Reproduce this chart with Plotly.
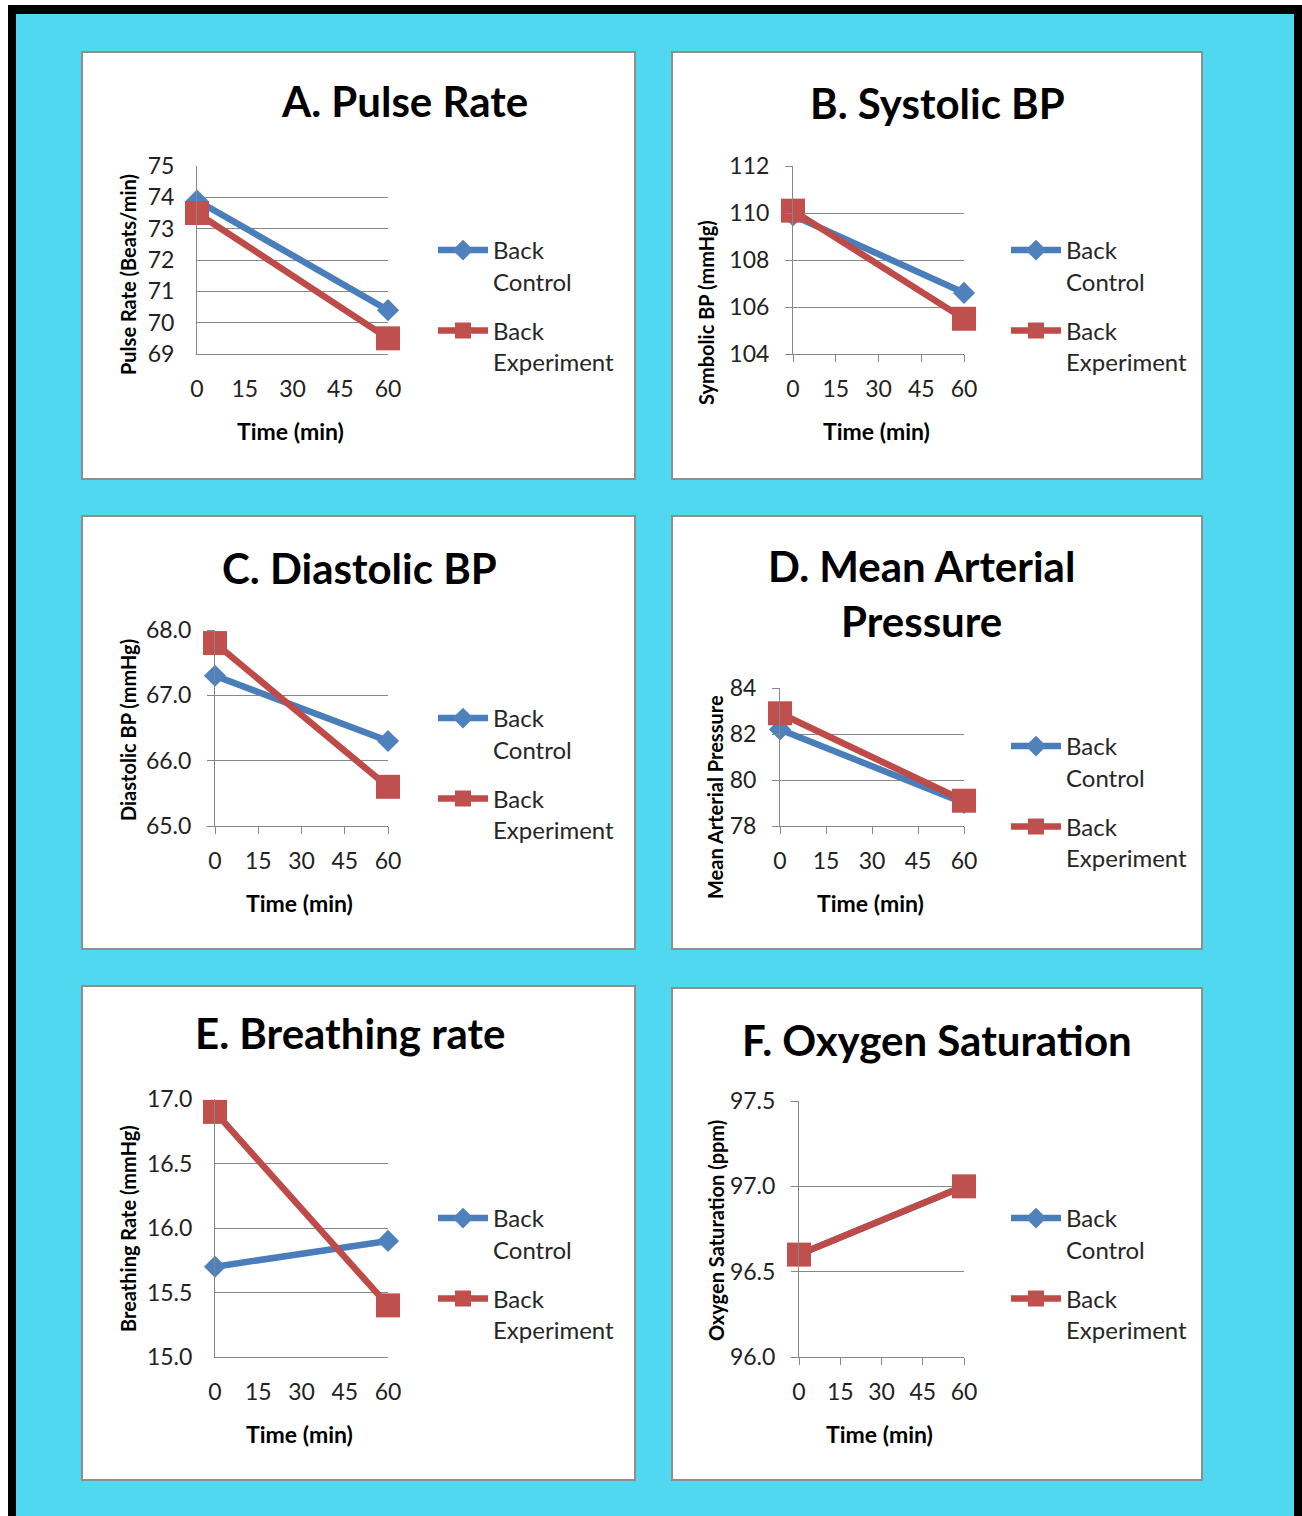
import plotly.graph_objects as go

W, H = 1302, 1516

# ---- data ----
time_min = [0, 60]
x_ticks = [0, 15, 30, 45, 60]

pulse_control = [73.9, 70.4]
pulse_experiment = [73.5, 69.5]

systolic_control = [109.9, 106.6]
systolic_experiment = [110.1, 105.5]

diastolic_control = [67.3, 66.3]
diastolic_experiment = [67.8, 65.6]

map_control = [82.2, 79.0]
map_experiment = [82.9, 79.1]

breathing_control = [15.7, 15.9]
breathing_experiment = [16.9, 15.4]

oxygen_control = [96.6, 97.0]
oxygen_experiment = [96.6, 97.0]

series_names = ["Back<br>Control", "Back<br>Experiment"]

BLUE_LINE, BLUE_MARK = "#4A7EBB", "#4F81BD"
RED_LINE, RED_MARK = "#BE4B48", "#C0504D"
GRID = "#878787"
CYAN = "#4FD8F0"
FONT = "Lato"


def px(x):
    return x / W


def py(y):
    return 1 - y / H


# layout of each chart panel (pixel geometry)
panels = [
    dict(title="A. Pulse Rate", ytitle="Pulse Rate (Beats/min)",
         control=pulse_control, experiment=pulse_experiment,
         yrange=(69, 75), dtick=1, fmt="d", ticks=False,
         box=(82, 52, 635, 479), plot=(197, 166, 388, 354),
         title_xy=(404, 101), ytitle_xy=(128, 275), legend_xy=(433, 228)),
    dict(title="B. Systolic BP", ytitle="Symbolic BP (mmHg)",
         control=systolic_control, experiment=systolic_experiment,
         yrange=(104, 112), dtick=2, fmt="d", ticks=True,
         box=(672, 52, 1202, 479), plot=(793, 166, 964, 354),
         title_xy=(937, 103), ytitle_xy=(706, 312), legend_xy=(1006, 228)),
    dict(title="C. Diastolic BP", ytitle="Diastolic BP (mmHg)",
         control=diastolic_control, experiment=diastolic_experiment,
         yrange=(65, 68), dtick=1, fmt=".1f", ticks=True,
         box=(82, 516, 635, 949), plot=(215, 630, 388, 826),
         title_xy=(359, 568), ytitle_xy=(128, 730), legend_xy=(433, 696)),
    dict(title="D. Mean Arterial<br>Pressure", ytitle="Mean Arterial Pressure",
         control=map_control, experiment=map_experiment,
         yrange=(78, 84), dtick=2, fmt="d", ticks=True,
         box=(672, 516, 1202, 949), plot=(780, 688, 964, 826),
         title_xy=(921, 594), ytitle_xy=(715, 797), legend_xy=(1006, 724)),
    dict(title="E. Breathing rate", ytitle="Breathing Rate (mmHg)",
         control=breathing_control, experiment=breathing_experiment,
         yrange=(15, 17), dtick=0.5, fmt=".1f", ticks=False,
         box=(82, 986, 635, 1480), plot=(215, 1099, 388, 1357),
         title_xy=(350, 1033), ytitle_xy=(128, 1229), legend_xy=(433, 1196)),
    dict(title="F. Oxygen Saturation", ytitle="Oxygen Saturation (ppm)",
         control=oxygen_control, experiment=oxygen_experiment,
         yrange=(96, 97.5), dtick=0.5, fmt=".1f", ticks=True,
         box=(672, 988, 1202, 1480), plot=(799, 1101, 964, 1357),
         title_xy=(937, 1040), ytitle_xy=(716, 1231), legend_xy=(1006, 1196)),
]

fig = go.Figure()
shapes = [
    # black frame and cyan backdrop
    dict(type="rect", xref="paper", yref="paper", x0=px(8), x1=1, y0=0, y1=py(5),
         fillcolor="black", line_width=0, layer="below"),
    dict(type="rect", xref="paper", yref="paper", x0=px(16), x1=px(1294), y0=0, y1=py(14),
         fillcolor=CYAN, line_width=0, layer="below"),
]
annotations = []
layout_extra = {}

for i, p in enumerate(panels, start=1):
    sfx = "" if i == 1 else str(i)
    xa, ya = f"x{sfx}", f"y{sfx}"
    leg = "legend" if i == 1 else f"legend{i}"

    bx0, by0, bx1, by1 = p["box"]
    shapes.append(dict(type="rect", xref="paper", yref="paper",
                       x0=px(bx0), x1=px(bx1), y0=py(by1), y1=py(by0),
                       fillcolor="white", line=dict(color="#8E8E8E", width=2),
                       layer="below"))

    for name, vals, lc, mc, sym, size, grp in [
        (series_names[0], p["control"], BLUE_LINE, BLUE_MARK, "diamond", 17, "c"),
        (series_names[1], p["experiment"], RED_LINE, RED_MARK, "square", 24, "e"),
    ]:
        fig.add_trace(go.Scatter(
            x=time_min, y=vals, name=name, mode="lines+markers",
            xaxis=xa, yaxis=ya, legend=leg, legendgroup=f"{grp}{i}",
            cliponaxis=False,
            line=dict(color=lc, width=6.5),
            marker=dict(symbol=sym, size=size, color=mc,
                        line=dict(width=0)),
        ))

    x0, y0, x1, y1 = p["plot"]
    tick_style = dict(ticks="outside", ticklen=7, tickcolor=GRID, tickwidth=1) if p["ticks"] \
        else dict(ticks="")
    layout_extra[f"xaxis{sfx}"] = dict(
        domain=[px(x0), px(x1)], anchor=ya, range=[0, 60],
        tickvals=x_ticks, showgrid=False, zeroline=False, automargin=False,
        showline=True, linecolor=GRID, linewidth=1,
        tickfont=dict(family=FONT, size=23, color="#222222"),
        ticklabelstandoff=7 if p["ticks"] else 14,
        **tick_style,
    )
    layout_extra[f"yaxis{sfx}"] = dict(
        domain=[py(y1), py(y0)], anchor=xa, range=list(p["yrange"]),
        dtick=p["dtick"], tick0=p["yrange"][0], tickformat=p["fmt"],
        showgrid=True, gridcolor=GRID, gridwidth=1, zeroline=False, automargin=False,
        showline=True, linecolor=GRID, linewidth=1,
        tickfont=dict(family=FONT, size=23, color="#222222"),
        ticklabelstandoff=11 if p["ticks"] else 17,
        **tick_style,
    )

    lx, ly = p["legend_xy"]
    layout_extra[leg] = dict(
        x=px(lx), y=py(ly), xanchor="left", yanchor="top",
        bgcolor="rgba(0,0,0,0)", borderwidth=0,
        font=dict(family=FONT, size=24, color="#262626"),
        valign="top", traceorder="grouped", tracegroupgap=15,
        itemwidth=50,
    )

    tx, ty = p["title_xy"]
    annotations.append(dict(
        text=f"<b>{p['title']}</b>", x=px(tx), y=py(ty), xref="paper", yref="paper",
        xanchor="center", yanchor="middle", showarrow=False,
        font=dict(family=FONT, size=42, color="black")))
    annotations.append(dict(
        text="<b>Time (min)</b>", x=px((x0 + x1) / 2 - 2), y=py(y1 + 77),
        xref="paper", yref="paper", xanchor="center", yanchor="middle",
        showarrow=False, font=dict(family=FONT, size=23, color="black")))
    ytx, yty = p["ytitle_xy"]
    annotations.append(dict(
        text=f"<b>{p['ytitle']}</b>", x=px(ytx), y=py(yty),
        xref="paper", yref="paper", xanchor="center", yanchor="middle",
        textangle=-90, showarrow=False,
        font=dict(family=FONT, size=20, color="black")))

fig.update_layout(
    width=W, height=H,
    margin=dict(l=0, r=0, t=0, b=0, pad=0, autoexpand=False),
    paper_bgcolor="white", plot_bgcolor="rgba(0,0,0,0)",
    showlegend=True, shapes=shapes, annotations=annotations,
    font=dict(family=FONT),
    **layout_extra,
)

# page without default body margin so the figure fills the window exactly
fig.write_html(
    "out.html",
    post_script="document.body.style.margin='0';document.body.style.overflow='hidden';",
)
